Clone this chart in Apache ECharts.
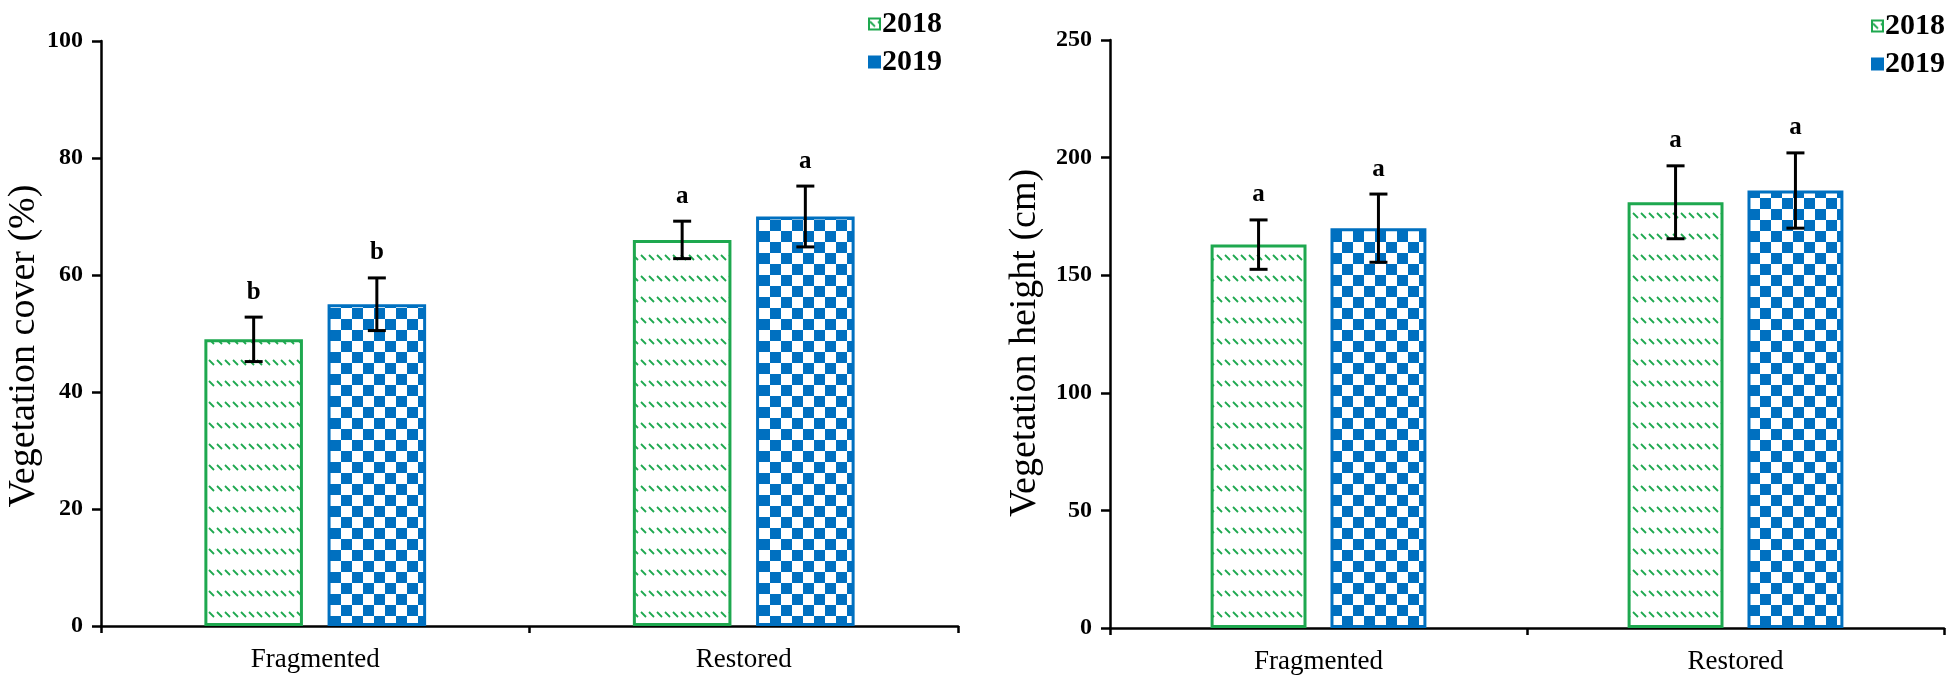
<!DOCTYPE html>
<html>
<head>
<meta charset="utf-8">
<script src="https://cdn.jsdelivr.net/npm/echarts@6/dist/echarts.min.js"></script>
<style>
html,body{margin:0;padding:0;background:#fff}
#main{width:1952px;height:677px}
</style>
</head>
<body>
<div id="main"></div>
<script>
// data
var categories = ['Fragmented', 'Restored']
var years = ['2018', '2019']

var cover2018 = [49, 66]
var cover2019 = [55, 70]
var coverErr2018 = [3.8, 3.2]
var coverErr2019 = [4.5, 5.2]
var coverLetters2018 = ['b', 'a']
var coverLetters2019 = ['b', 'a']

var height2018 = [163, 181]
var height2019 = [170, 186]
var heightErr2018 = [10.5, 15.5]
var heightErr2019 = [14.5, 16]
var heightLetters2018 = ['a', 'a']
var heightLetters2019 = ['a', 'a']

var green = '#1ea84f'
var blue = '#0070c0'
var serif = '"Liberation Serif", "Times New Roman", serif'
var barW = 0.23
var barGap = 0.25

// dashed downward diagonal fill
function dashPattern(){
  var c = document.createElement('canvas')
  c.width = 8; c.height = 21
  var ctx = c.getContext('2d')
  ctx.fillStyle = '#fff'
  ctx.fillRect(0,0,8,21)
  ctx.strokeStyle = green
  ctx.lineWidth = 1.8
  ctx.beginPath()
  ctx.moveTo(1,3); ctx.lineTo(6,8)
  ctx.stroke()
  return c
}

// large checker board fill
function checkPattern(){
  var c = document.createElement('canvas')
  c.width = 22; c.height = 22
  var ctx = c.getContext('2d')
  ctx.fillStyle = '#fff'
  ctx.fillRect(0,0,22,22)
  ctx.fillStyle = blue
  ctx.fillRect(0,0,11,11)
  ctx.fillRect(11,11,11,11)
  return c
}

var fill2018 = {image: dashPattern(), repeat: 'repeat'}
var fill2019 = {image: checkPattern(), repeat: 'repeat'}

function barSeries(name, idx, values, fill, border){
  return {
    name: name, type: 'bar', xAxisIndex: idx, yAxisIndex: idx,
    data: values, barWidth: (barW*100)+'%', barGap: (barGap*100)+'%',
    itemStyle: {color: fill, borderColor: border, borderWidth: 3},
    emphasis: {disabled: true}
  }
}

function errSeries(idx, values, errs, letters, side){
  return {
    type: 'custom', xAxisIndex: idx, yAxisIndex: idx, z: 10, silent: true,
    data: values.map(function(v, i){ return [i, v, errs[i]] }),
    encode: {x: 0, y: 1},
    renderItem: function(params, api){
      var i = api.value(0)
      var band = api.size([1, 0])[0]
      var bw = band*barW
      var off = side*bw*(1+barGap)/2
      var hi = api.coord([i, api.value(1)+api.value(2)])
      var lo = api.coord([i, api.value(1)-api.value(2)])
      var x = hi[0]+off
      var ls = {stroke: '#000', lineWidth: 3}
      return {
        type: 'group',
        children: [
          {type: 'line', shape: {x1: x, y1: hi[1], x2: x, y2: lo[1]}, style: ls},
          {type: 'line', shape: {x1: x-9, y1: hi[1], x2: x+9, y2: hi[1]}, style: ls},
          {type: 'line', shape: {x1: x-9, y1: lo[1], x2: x+9, y2: lo[1]}, style: ls},
          {type: 'text', style: {text: letters[params.dataIndex], x: x, y: hi[1]-25,
            align: 'center', verticalAlign: 'middle', font: 'bold 25px '+serif, fill: '#000'}}
        ]
      }
    }
  }
}

function xAxis(idx){
  return {
    type: 'category', gridIndex: idx, data: categories,
    axisLine: {lineStyle: {color: '#000', width: 2.5}},
    axisTick: {show: true, length: 7, lineStyle: {color: '#000', width: 2.5}},
    axisLabel: {color: '#000', fontFamily: serif, fontSize: 27, margin: 20}
  }
}

function yAxis(idx, max, step, name, gap, shift){
  return {
    type: 'value', gridIndex: idx, min: 0, max: max, interval: step,
    name: name, nameLocation: 'middle', nameGap: gap,
    nameTextStyle: {color: '#000', fontFamily: serif, fontSize: 38, padding: [0, shift, 0, 0]},
    axisLine: {show: true, lineStyle: {color: '#000', width: 2.5}},
    axisTick: {show: true, length: 9, lineStyle: {color: '#000', width: 2.5}},
    axisLabel: {color: '#000', fontFamily: serif, fontWeight: 'bold', fontSize: 24, margin: 18},
    splitLine: {show: false}
  }
}

function legend(idx, left, top){
  return {
    left: left, top: top, orient: 'vertical', itemGap: 8,
    itemWidth: 11, itemHeight: 11, icon: 'rect',
    data: years.map(function(y){ return {name: y} }),
    selectedMode: false,
    textStyle: {color: '#000', fontFamily: serif, fontWeight: 'bold', fontSize: 30, padding: [0, 0, 0, -3]},
    itemStyle: {borderWidth: 2}
  }
}

var chart = echarts.init(document.getElementById('main'), null, {renderer: 'canvas'})
chart.setOption({
  backgroundColor: '#fff',
  animation: false,
  grid: [
    {left: 101, top: 41, width: 857, height: 585},
    {left: 1110, top: 40, width: 834, height: 588}
  ],
  legend: [legend(0, 863, 4), legend(1, 1866, 6)],
  xAxis: [xAxis(0), xAxis(1)],
  yAxis: [
    yAxis(0, 100, 20, 'Vegetation cover (%)', 55, 25),
    yAxis(1, 250, 50, 'Vegetation height (cm)', 66, 18)
  ],
  series: [
    barSeries('2018', 0, cover2018, fill2018, green),
    barSeries('2019', 0, cover2019, fill2019, blue),
    barSeries('2018', 1, height2018, fill2018, green),
    barSeries('2019', 1, height2019, fill2019, blue),
    errSeries(0, cover2018, coverErr2018, coverLetters2018, -1),
    errSeries(0, cover2019, coverErr2019, coverLetters2019, 1),
    errSeries(1, height2018, heightErr2018, heightLetters2018, -1),
    errSeries(1, height2019, heightErr2019, heightLetters2019, 1)
  ]
})
</script>
</body>
</html>
